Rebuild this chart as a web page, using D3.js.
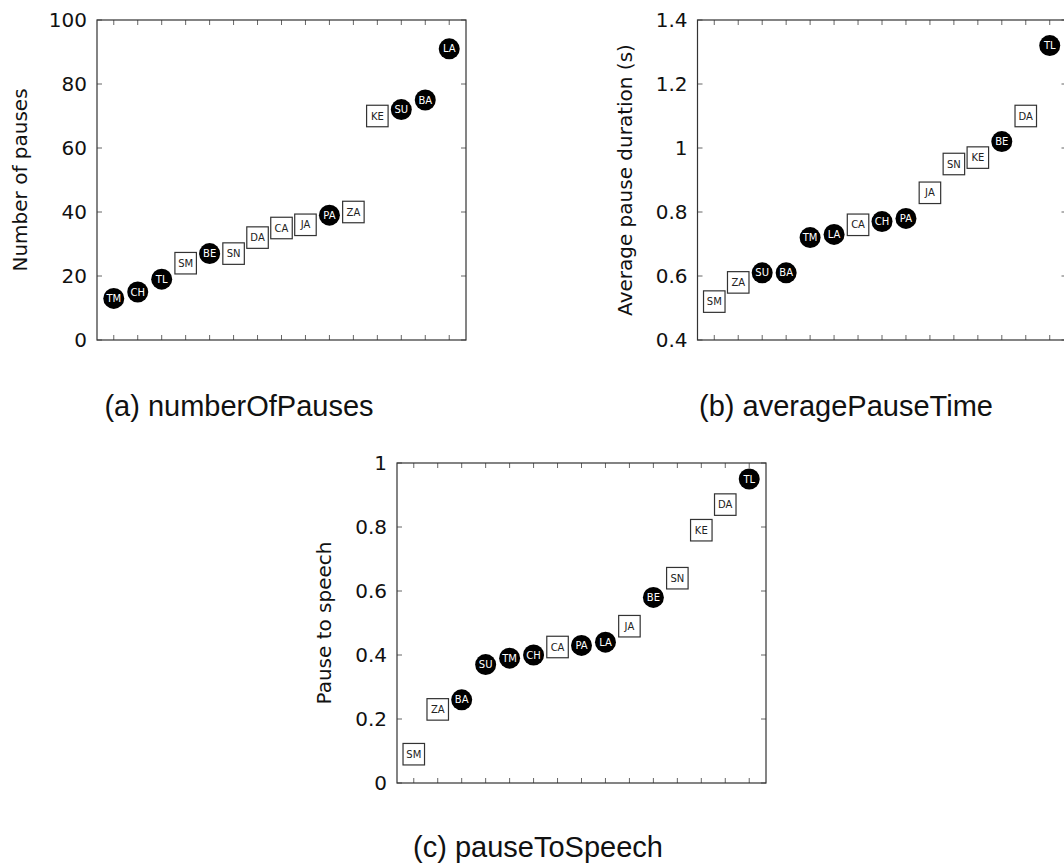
<!DOCTYPE html>
<html>
<head>
<meta charset="utf-8">
<script src="https://cdn.jsdelivr.net/npm/d3@7"></script>
<style>
  html, body { margin: 0; padding: 0; background: #fff; }
  svg { display: block; }
</style>
</head>
<body>
<svg id="chart" width="1064" height="866"></svg>
<script>
// Speakers drawn as filled circles; everyone else is drawn as an open square.
const circleSpeakers = ["TM", "CH", "TL", "BE", "PA", "SU", "BA", "LA"];

// (a) number of pauses, speakers sorted ascending
const pausesNames  = ["TM", "CH", "TL", "SM", "BE", "SN", "DA", "CA", "JA", "PA", "ZA", "KE", "SU", "BA", "LA"];
const pausesValues = [13, 15, 19, 24, 27, 27, 32, 35, 36, 39, 40, 70, 72, 75, 91];
const pausesTicks  = [0, 20, 40, 60, 80, 100];
const pausesTickLabels = ["0", "20", "40", "60", "80", "100"];

// (b) average pause duration in seconds
const durationNames  = ["SM", "ZA", "SU", "BA", "TM", "LA", "CA", "CH", "PA", "JA", "SN", "KE", "BE", "DA", "TL"];
const durationValues = [0.52, 0.58, 0.61, 0.61, 0.72, 0.73, 0.76, 0.77, 0.78, 0.86, 0.95, 0.97, 1.02, 1.10, 1.32];
const durationTicks  = [0.4, 0.6, 0.8, 1.0, 1.2, 1.4];
const durationTickLabels = ["0.4", "0.6", "0.8", "1", "1.2", "1.4"];

// (c) ratio of pause time to speech time
const ratioNames  = ["SM", "ZA", "BA", "SU", "TM", "CH", "CA", "PA", "LA", "JA", "BE", "SN", "KE", "DA", "TL"];
const ratioValues = [0.09, 0.23, 0.26, 0.37, 0.39, 0.40, 0.425, 0.43, 0.44, 0.49, 0.58, 0.64, 0.79, 0.87, 0.95];
const ratioTicks  = [0, 0.2, 0.4, 0.6, 0.8, 1.0];
const ratioTickLabels = ["0", "0.2", "0.4", "0.6", "0.8", "1"];

const panels = [
  { names: pausesNames, values: pausesValues, domain: [0, 100], ticks: pausesTicks, tickLabels: pausesTickLabels,
    yLabel: "Number of pauses", caption: "(a) numberOfPauses",
    left: 97, top: 20, yLabelX: 27, captionX: 239, captionY: 416 },
  { names: durationNames, values: durationValues, domain: [0.4, 1.4], ticks: durationTicks, tickLabels: durationTickLabels,
    yLabel: "Average pause duration (s)", caption: "(b) averagePauseTime",
    left: 697.5, top: 20, yLabelX: 632, captionX: 846, captionY: 416 },
  { names: ratioNames, values: ratioValues, domain: [0, 1], ticks: ratioTicks, tickLabels: ratioTickLabels,
    yLabel: "Pause to speech", caption: "(c) pauseToSpeech",
    left: 397, top: 463, yLabelX: 331, captionX: 538, captionY: 857 }
];

const plotW = 369, plotH = 320, tickLen = 5;
const r = 10.5, side = 21.5;
const svg = d3.select("#chart");

panels.forEach(p => {
  const x = d3.scalePoint().domain(p.names).range([0, plotW]).padding(0.7);
  const y = d3.scaleLinear().domain(p.domain).range([plotH, 0]);
  const g = svg.append("g").attr("transform", `translate(${p.left},${p.top})`);

  // inward ticks on all four sides
  const ticks = g.append("g").attr("stroke", "#666").attr("stroke-width", 1);
  p.names.forEach(n => {
    const tx = x(n);
    ticks.append("line").attr("x1", tx).attr("x2", tx).attr("y1", plotH).attr("y2", plotH - tickLen);
    ticks.append("line").attr("x1", tx).attr("x2", tx).attr("y1", 0).attr("y2", tickLen);
  });
  p.ticks.forEach(t => {
    const ty = y(t);
    ticks.append("line").attr("x1", 0).attr("x2", tickLen).attr("y1", ty).attr("y2", ty);
    ticks.append("line").attr("x1", plotW).attr("x2", plotW - tickLen).attr("y1", ty).attr("y2", ty);
  });

  // y tick labels
  g.append("g").selectAll("text").data(p.ticks).join("text")
    .attr("x", -10).attr("y", d => y(d)).attr("dy", "0.36em")
    .attr("text-anchor", "end")
    .attr("font-family", "DejaVu Sans").attr("font-size", 20).attr("fill", "#111")
    .text((d, i) => p.tickLabels[i]);

  // frame
  g.append("rect").attr("width", plotW).attr("height", plotH)
    .attr("fill", "none").attr("stroke", "#333").attr("stroke-width", 1.2);

  // markers
  const pts = p.names.map((n, i) => ({ name: n, value: p.values[i], circle: circleSpeakers.includes(n) }));
  const m = g.append("g").selectAll("g").data(pts).join("g")
    .attr("transform", d => `translate(${x(d.name)},${y(d.value)})`);
  m.filter(d => d.circle).append("circle").attr("r", r).attr("fill", "#000");
  m.filter(d => !d.circle).append("rect")
    .attr("x", -side / 2).attr("y", -side / 2).attr("width", side).attr("height", side)
    .attr("fill", "#fff").attr("stroke", "#333").attr("stroke-width", 1.2);
  m.append("text").attr("text-anchor", "middle").attr("dy", "0.36em")
    .attr("font-family", "DejaVu Sans").attr("font-size", 10)
    .attr("fill", d => d.circle ? "#fff" : "#222")
    .text(d => d.name);

  // y axis label
  svg.append("text")
    .attr("transform", `translate(${p.yLabelX},${p.top + plotH / 2}) rotate(-90)`)
    .attr("text-anchor", "middle")
    .attr("font-family", "DejaVu Sans").attr("font-size", 20).attr("fill", "#111")
    .text(p.yLabel);

  // caption
  svg.append("text")
    .attr("x", p.captionX).attr("y", p.captionY)
    .attr("text-anchor", "middle")
    .attr("font-family", "Liberation Sans").attr("font-size", 29).attr("fill", "#111")
    .text(p.caption);
});
</script>
</body>
</html>
